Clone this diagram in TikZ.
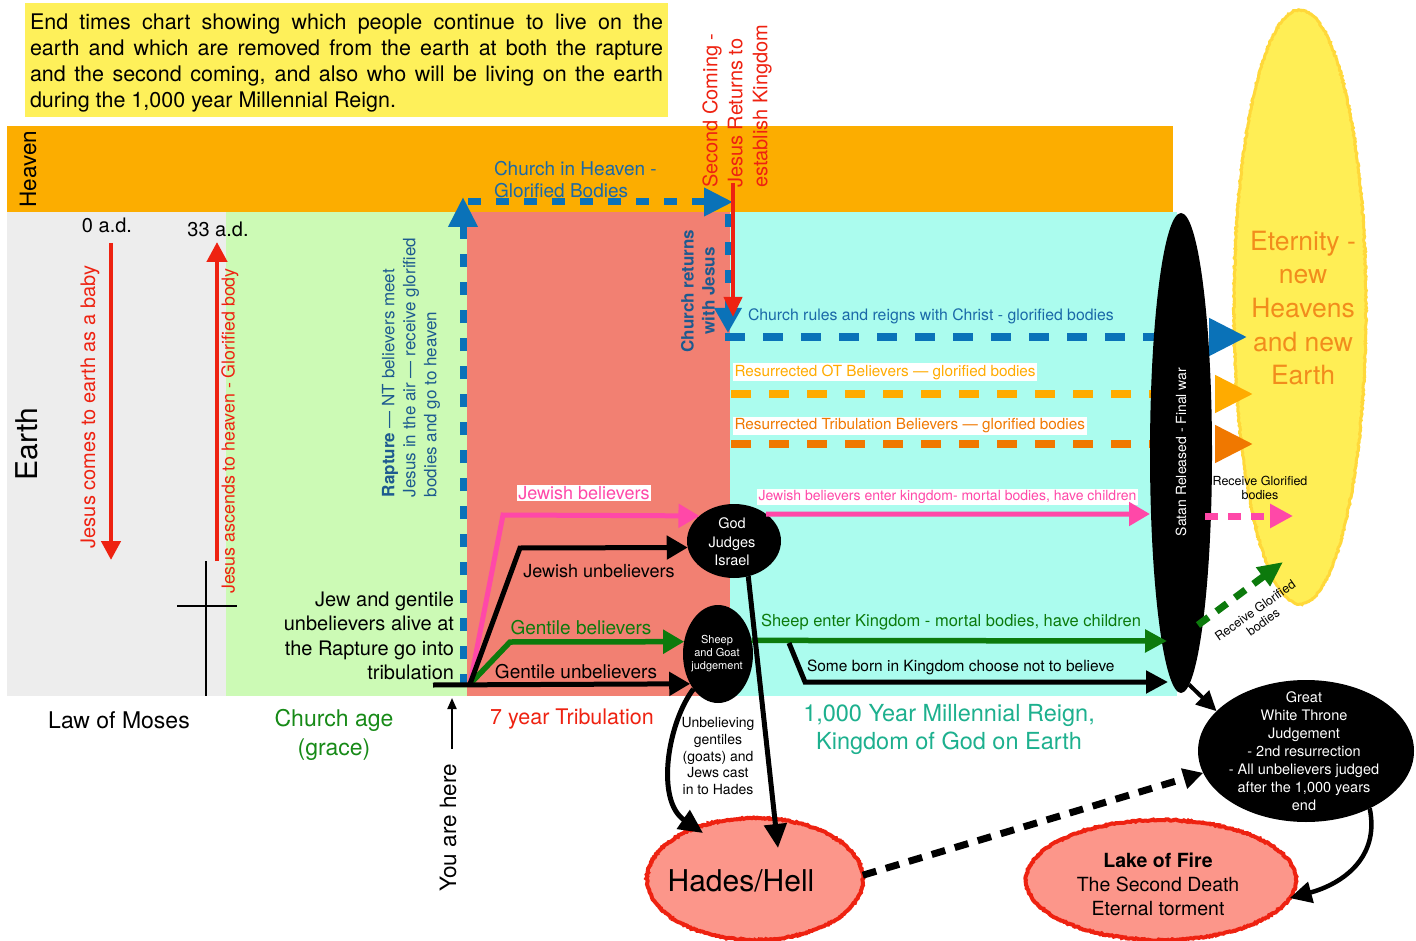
\documentclass[tikz,border=0pt]{standalone}
\usepackage{fontspec}
\setmainfont{TeX Gyre Heros}
\usetikzlibrary{arrows.meta,shapes.geometric,decorations.pathmorphing}
\definecolor{heav}{HTML}{FCAD00}
\definecolor{grayb}{HTML}{EDEDED}
\definecolor{greenb}{HTML}{CCFAB5}
\definecolor{salm}{HTML}{F28072}
\definecolor{cyanb}{HTML}{ABFCEE}
\definecolor{yelbox}{HTML}{FEF05A}
\definecolor{yelell}{HTML}{FFEE55}
\definecolor{yeledge}{HTML}{FFD83A}
\definecolor{bluel}{HTML}{0A72B8}
\definecolor{bluet}{HTML}{1A69A8}
\definecolor{blued}{HTML}{1D5A8F}
\definecolor{redl}{HTML}{EE2211}
\definecolor{pinkl}{HTML}{FF48A8}
\definecolor{greenl}{HTML}{0C7A0C}
\definecolor{orl}{HTML}{FFAB00}
\definecolor{ord}{HTML}{F07800}
\definecolor{tealt}{HTML}{1DB08E}
\definecolor{etern}{HTML}{F28C1C}
\definecolor{hellf}{HTML}{FC968A}
\definecolor{churchg}{HTML}{178A17}
\newcommand{\fsz}[2]{\fontsize{#1}{#2}\selectfont}
\begin{document}
\begin{tikzpicture}[x=1pt,y=-1pt,
  every node/.style={inner sep=0pt,outer sep=0pt},
  blob/.style={ellipse,fill=black,draw=none},
  rough/.style={decorate,decoration={random steps,segment length=1.6pt,amplitude=0.7pt}},
  firey/.style={ellipse,fill=hellf,draw=redl,line width=4pt,rough},
  bk/.style={draw=black,line width=5pt},
  stip/.style={-{Triangle[length=21pt,width=23pt]}},
  bigtip/.style={-{Triangle[length=38pt,width=36pt]}},
  bluedash/.style={draw=bluel,line width=7pt,dash pattern=on 13pt off 15pt},
  widedash/.style={line width=8pt,dash pattern=on 20pt off 18pt},
  whitelbl/.style={fill=white,inner sep=1.5pt,anchor=west}
]
\pgfmathsetseed{7}
\useasboundingbox (0,0) rectangle (1416,941);
% backgrounds
\fill[yelbox] (25,3) rectangle (668,117);
\fill[heav] (7,126) rectangle (1173,212);
\fill[grayb] (7,212) rectangle (226,696);
\fill[greenb] (226,212) rectangle (467,696);
\fill[salm] (467,212) rectangle (730,696);
\fill[cyanb] (730,212) rectangle (1177,696);
\node[ellipse,fill=yelell,draw=yeledge,line width=3pt,rough,minimum width=132pt,minimum height=594pt] (etern) at (1300,307) {};
% intro
\node[anchor=north west,text width=633pt,align=justify,font=\fsz{21.5}{26}] (intro) at (30,14)
 {End times chart showing which people continue to live on the\linebreak earth and which are removed from the earth at both the rapture\linebreak and the second coming, and also who will be living on the earth\linebreak during the 1,000 year Millennial Reign.};
% left labels
\node[rotate=90,font=\fsz{22.5}{27}] (heaven) at (28,169) {Heaven};
\node[rotate=90,font=\fsz{30}{36}] (earth) at (27,444) {Earth};
\node[font=\fsz{20}{24}] (ad0) at (107,225) {0 a.d.};
\node[font=\fsz{20}{24}] (ad33) at (218,229) {33 a.d.};
\node[rotate=90,font=\fsz{20}{24},text=redl] (baby) at (90,407) {Jesus comes to earth as a baby};
\node[rotate=90,font=\fsz{17.8}{21},text=redl] (ascend) at (230,431) {Jesus ascends to heaven - Glorified body};
\coordinate (b1) at (111,243); \coordinate (b2) at (111,560);
\draw[redl,line width=4.5pt,-{Triangle[length=19pt,width=19pt]}] (b1) -- (b2);
\coordinate (a1) at (217,561); \coordinate (a2) at (217,242);
\draw[redl,line width=4.5pt,-{Triangle[length=20pt,width=20pt]}] (a1) -- (a2);
\coordinate (c1) at (206,561); \coordinate (c2) at (206,696);
\coordinate (c3) at (177,606); \coordinate (c4) at (237,606);
\draw[line width=2pt] (c1) -- (c2) (c3) -- (c4);
\node[rotate=90,anchor=west,align=left,font=\fsz{17}{21},text=blued] (rapt) at (411,497)
 {\textbf{Rapture} — NT believers meet\\Jesus in the air — receive glorified\\bodies and go to heaven};
\node[anchor=east,align=right,font=\fsz{20}{24.3}] (jewgen) at (454,636)
 {Jew and gentile\\unbelievers alive at\\the Rapture go into\\tribulation};
% bottom labels
\node[font=\fsz{23}{28}] (moses) at (119,720) {Law of Moses};
\node[align=center,font=\fsz{23}{29},text=churchg] (cage) at (334,735) {Church age\\(grace)};
\node[rotate=90,font=\fsz{22.5}{27}] (here) at (448,828) {You are here};
\coordinate (y1) at (452,749); \coordinate (y2) at (452,698);
\draw[line width=2pt,-{Triangle[length=11pt,width=9pt]}] (y1) -- (y2);
\node[font=\fsz{21.5}{26},text=redl] (trib) at (572,719) {7 year Tribulation};
\node[align=center,font=\fsz{23.5}{28},text=tealt] (mill) at (949,729) {1,000 Year Millennial Reign,\\Kingdom of God on Earth};
% heaven texts
\node[anchor=west,align=left,font=\fsz{19}{22},text=bluet] (chh) at (494,180) {Church in Heaven -\\Glorified Bodies};
\node[rotate=90,anchor=west,align=left,font=\fsz{20}{25},text=redl] (second) at (737,188) {Second Coming -\\Jesus Returns to\\establish Kingdom};
\node[rotate=90,align=center,font=\fsz{17}{21}\bfseries,text=blued] (chret) at (698,291) {Church returns\\with Jesus};
% rapture dashed
\coordinate (r0) at (463,687); \coordinate (r1) at (463,197);
\draw[bluedash,-{Triangle[length=30pt,width=28pt]}] (r0) -- (r1);
\coordinate (r2) at (468,202); \coordinate (r3) at (733,202);
\draw[bluedash,-{Triangle[length=29pt,width=27pt]}] (r2) -- (r3);
\coordinate (d1) at (728,214); \coordinate (d2) at (728,333);
\draw[bluedash,-{Triangle[length=25pt,width=26pt]}] (d1) -- (d2);
\coordinate (s1) at (733,183); \coordinate (s2) at (733,317);
\draw[redl,line width=4pt,-{Triangle[length=20pt,width=18pt]}] (s1) -- (s2);
% millennium labels
\node[anchor=west,font=\fsz{15.8}{19},text=bluet] (rules) at (748,316) {Church rules and reigns with Christ - glorified bodies};
\node[whitelbl,font=\fsz{15.3}{18},text=orl] (otb) at (733,372) {Resurrected OT Believers — glorified bodies};
\node[whitelbl,font=\fsz{15.3}{18},text=ord] (trb) at (733,426) {Resurrected Tribulation Believers — glorified bodies};
\node[whitelbl,font=\fsz{14}{17},text=pinkl] (jbk) at (757,497) {Jewish believers enter kingdom- mortal bodies, have children};
\coordinate (e1) at (725,337); \coordinate (e2) at (1247,337);
\draw[widedash,draw=bluel,bigtip] (e1) -- (e2);
\coordinate (o1) at (731,394); \coordinate (o2) at (1253,394);
\draw[widedash,draw=orl,bigtip] (o1) -- (o2);
\coordinate (o3) at (731,444); \coordinate (o4) at (1253,444);
\draw[widedash,draw=ord,bigtip] (o3) -- (o4);
% Satan
\node[blob,minimum width=62pt,minimum height=480pt] (satan) at (1181,453) {};
\node[rotate=90,font=\fsz{14}{17},text=white] (satant) at (1181,452) {Satan Released - Final war};
% eternity text
\node[align=center,font=\fsz{26.5}{33.7},text=etern] (eternt) at (1303,308) {Eternity -\\new\\Heavens\\and new\\Earth};
\node[align=center,font=\fsz{12.5}{14}] (rg1) at (1260,488) {Receive Glorified\\bodies};
\node[rotate=35,align=center,font=\fsz{12.5}{14}] (rg2) at (1259,616) {Receive Glorified\\bodies};
% judgement ellipses
\node[blob,minimum width=94pt,minimum height=74pt] (godj) at (734,541) {};
\node[align=center,font=\fsz{14.5}{18.5},text=white] (godjt) at (732,542) {God\\Judges\\Israel};
\node[blob,minimum width=70pt,minimum height=98pt] (sheep) at (718,654) {};
\node[align=center,font=\fsz{11}{13},text=white] (sheept) at (717,654) {Sheep\\and Goat\\judgement};
\node[blob,minimum width=216pt,minimum height=142pt] (gwt) at (1306,751) {};
\node[align=center,font=\fsz{14.5}{18},text=white] (gwtt) at (1304,751) {Great\\White Throne\\Judgement\\- 2nd resurrection\\- All unbelievers judged\\after the 1,000 years\\end};
\node[firey,minimum width=216pt,minimum height=122pt] (hades) at (755,879) {};
\node[font=\fsz{30}{36}] (hadest) at (741,881) {Hades/Hell};
\node[firey,minimum width=270pt,minimum height=120pt] (lake) at (1161,880) {};
\node[align=center,font=\fsz{19.5}{24}] (laket) at (1158,884) {\textbf{Lake of Fire}\\The Second Death\\Eternal torment};
% tribulation lines
\node[fill=white,inner sep=1.5pt,font=\fsz{18}{22},text=pinkl] (jb) at (584,493) {Jewish believers};
\node[font=\fsz{18}{22}] (jub) at (599,571) {Jewish unbelievers};
\node[font=\fsz{19}{23},text=greenl] (gb) at (581,628) {Gentile believers};
\node[font=\fsz{19}{23}] (gub) at (576,672) {Gentile unbelievers};
\coordinate (st) at (470,684);
\coordinate (p1) at (503,515); \coordinate (k1) at (520,548); \coordinate (g1) at (510,642);
\coordinate (gu0) at (433,685);
\draw[pinkl,line width=5pt,stip] (st) -- (p1) -- (godj.144);
\draw[greenl,line width=5.5pt,stip] (st) -- (g1) -- (sheep.160);
\draw[bk,stip] (st) -- (k1) -- (godj.188);
\draw[bk,stip] (gu0) -- (sheep.227);
% kingdom lines
\node[anchor=west,font=\fsz{16.5}{20},text=greenl] (sek) at (761,622) {Sheep enter Kingdom - mortal bodies, have children};
\node[anchor=west,font=\fsz{15.5}{19}] (sbk) at (807,667) {Some born in Kingdom choose not to believe};
\coordinate (pk) at (1150,514);
\draw[pinkl,line width=5pt,stip] (godj.40) -- (pk);
\coordinate (gk) at (1167,641);
\draw[greenl,line width=5.5pt,-{Triangle[length=22pt,width=22pt]}] (sheep.22) -- (gk);
\coordinate (sb0) at (789,643); \coordinate (sb1) at (805,682); \coordinate (sb2) at (1168,682);
\draw[bk,-{Triangle[length=22pt,width=22pt]}] (sb0) -- (sb1) -- (sb2);
\coordinate (pd0) at (1205,516); \coordinate (pd1) at (1293,516);
\draw[pinkl,line width=7pt,dash pattern=on 13pt off 10pt,-{Triangle[length=23pt,width=23pt]}] (pd0) -- (pd1);
\coordinate (gd0) at (1198,625); \coordinate (gd1) at (1283,562);
\draw[greenl,line width=7pt,dash pattern=on 13pt off 10pt,-{Triangle[length=25pt,width=22pt]}] (gd0) -- (gd1);
% to hades
\node[align=center,font=\fsz{14}{16.8}] (unb) at (718,756) {Unbelieving\\gentiles\\(goats) and\\Jews cast\\in to Hades};
\coordinate (h1) at (778,848);
\draw[bk,-{Triangle[length=24pt,width=22pt]}] (godj.292) -- (h1);
\coordinate (h2) at (703,833);
\draw[bk,-{Triangle[length=24pt,width=22pt]}] (sheep.235) .. controls (668,722) and (655,800) .. (h2);
% to GWT and lake
\draw[draw=black,line width=4pt,-{Triangle[length=20pt,width=19pt]}] (satan.272) -- (gwt.156);
\draw[draw=black,line width=7pt,dash pattern=on 14pt off 10pt,-{Triangle[length=20pt,width=20pt]}] (hades.2) -- (gwt.192);
\draw[draw=black,line width=4.5pt,-{Triangle[length=22pt,width=21pt]}] (gwt.318) .. controls (1380,858) and (1342,884) .. (lake.352);
\end{tikzpicture}
\end{document}
